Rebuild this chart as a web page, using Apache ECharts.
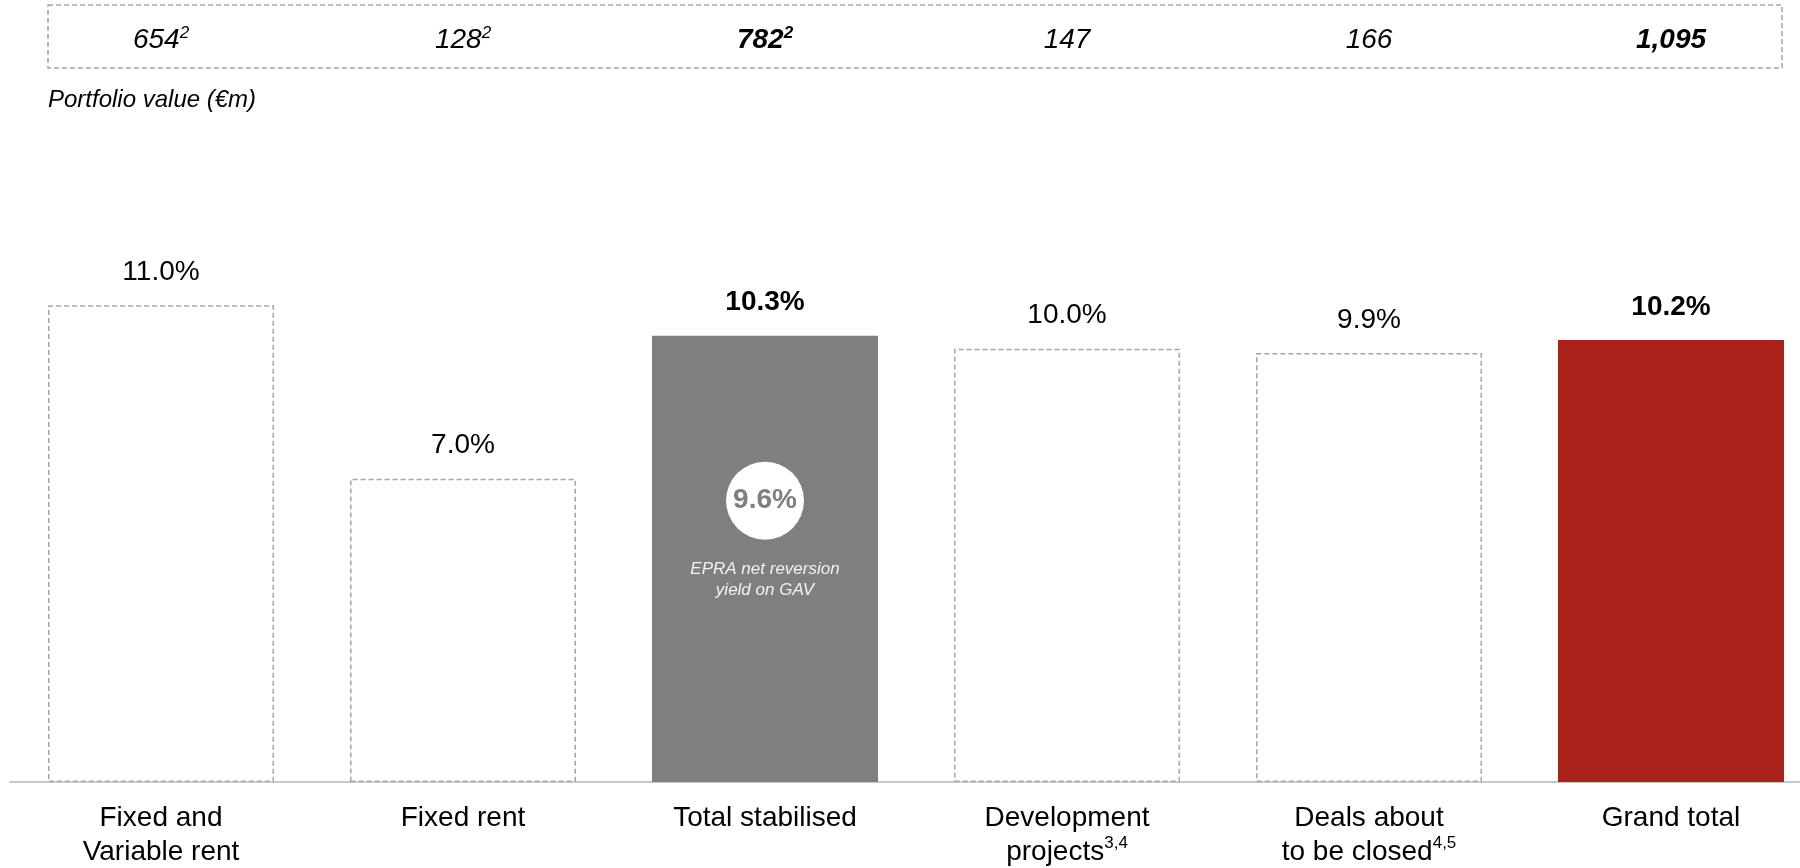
<!DOCTYPE html>
<html>
<head>
<meta charset="utf-8">
<title>Yield by portfolio segment</title>
<script src="https://cdn.jsdelivr.net/npm/echarts@6/dist/echarts.min.js"></script>
<style>
    html, body { margin: 0; padding: 0; background: #fff; }
    #chart { width: 1800px; height: 868px; }
</style>
</head>
<body>
<div id="chart"></div>
<script>
// categories (bottom axis)
var categories = ['Fixed and\nVariable rent', 'Fixed rent', 'Total stabilised', 'Development\nprojects', 'Deals about\nto be closed', 'Grand total'];
var categoryNotes = ['', '', '', '3,4', '4,5', ''];

// yield per segment (%)
var yieldValues = [11.0, 7.0, 10.3, 10.0, 9.9, 10.2];

// portfolio value (€m), shown in the box on top
var portfolioValues = ['654', '128', '782', '147', '166', '1,095'];
var portfolioNotes = ['2', '2', '2', '', '', ''];

// EPRA net reversion yield on GAV, shown inside "Total stabilised"
var epraYield = 9.6;

var FONT = 'Liberation Sans, Arial, sans-serif';

// which bars are filled / bold, the rest are dashed outlines
var filled = {
    'Total stabilised': '#7f7f7f',
    'Grand total': '#a8221a'
};

var chart = echarts.init(document.getElementById('chart'));

var barData = yieldValues.map(function (v, i) {
    var name = categories[i];
    var item = { value: v };
    if (filled[name]) {
        item.itemStyle = { color: filled[name], borderWidth: 0 };
        item.label = { fontWeight: 'bold' };
    } else {
        item.itemStyle = {
            color: '#fff',
            borderColor: '#a6a6a6',
            borderType: [5, 3],
            borderWidth: 1.5
        };
    }
    return item;
});

// only the stabilised bar carries the EPRA annotation
var epraData = yieldValues.map(function (v, i) {
    return categories[i] === 'Total stabilised' ? v : '-';
});

var option = {
    backgroundColor: '#fff',
    animation: false,
    title: {
        text: 'Portfolio value (€m)',
        left: 48,
        top: 88,
        padding: 0,
        textStyle: { fontFamily: FONT, fontSize: 24, fontStyle: 'italic', fontWeight: 'normal', color: '#000' }
    },
    graphic: [{
        type: 'rect',
        silent: true,
        shape: { x: 48, y: 5, width: 1734, height: 63 },
        style: { fill: 'none', stroke: '#a6a6a6', lineWidth: 1.5, lineDash: [5, 3] }
    }],
    grid: { left: 10, top: 262, width: 1812, height: 520, outerBoundsMode: 'none', containLabel: false },
    xAxis: [{
        type: 'category',
        data: categories,
        axisLine: { lineStyle: { color: '#c8c8c8', width: 2 } },
        axisTick: { show: false },
        axisLabel: {
            interval: 0,
            margin: 19,
            fontFamily: FONT,
            fontSize: 28,
            lineHeight: 34,
            color: '#000',
            formatter: function (value, idx) {
                var note = categoryNotes[idx];
                return note ? value + '{sup|' + note + '}' : value;
            },
            rich: {
                sup: { fontFamily: FONT, fontSize: 17, lineHeight: 22, verticalAlign: 'top', color: '#000' }
            }
        }
    }, {
        type: 'category',
        position: 'top',
        offset: 222,
        data: portfolioValues,
        axisLine: { show: false },
        axisTick: { show: false },
        axisLabel: {
            interval: 0,
            margin: 0,
            verticalAlign: 'middle',
            formatter: function (value, idx) {
                var bold = categories[idx] === 'Total stabilised' || categories[idx] === 'Grand total';
                var s = bold ? '{b|' + value + '}' : '{n|' + value + '}';
                if (portfolioNotes[idx]) s += (bold ? '{sb|' : '{s|') + portfolioNotes[idx] + '}';
                return s;
            },
            rich: {
                n: { fontFamily: FONT, fontSize: 28, fontStyle: 'italic', color: '#000', lineHeight: 30 },
                b: { fontFamily: FONT, fontSize: 28, fontStyle: 'italic', fontWeight: 'bold', color: '#000', lineHeight: 30 },
                s: { fontFamily: FONT, fontSize: 17, fontStyle: 'italic', color: '#000', lineHeight: 20, verticalAlign: 'top' },
                sb: { fontFamily: FONT, fontSize: 17, fontStyle: 'italic', fontWeight: 'bold', color: '#000', lineHeight: 20, verticalAlign: 'top' }
            }
        }
    }],
    yAxis: {
        type: 'value',
        min: 0,
        max: 12,
        show: false,
        splitLine: { show: false }
    },
    series: [{
        name: 'Yield',
        type: 'bar',
        barWidth: 226,
        data: barData,
        label: {
            show: true,
            position: 'top',
            distance: 19,
            fontFamily: FONT,
            fontSize: 28,
            color: '#000',
            formatter: function (p) { return p.value.toFixed(1) + '%'; }
        }
    }, {
        name: 'EPRA',
        type: 'bar',
        barWidth: 226,
        barGap: '-100%',
        silent: true,
        data: epraData,
        itemStyle: { color: 'rgba(0,0,0,0)' },
        label: {
            show: true,
            position: 'insideTop',
            distance: 126,
            formatter: function () {
                return '{c|' + epraYield.toFixed(1) + '%}\n{gap| }\n{t|EPRA net reversion}\n{t|yield on GAV}';
            },
            rich: {
                c: {
                    width: 78, height: 78, lineHeight: 78, borderRadius: 39,
                    backgroundColor: '#fff', color: '#7f7f7f', align: 'center',
                    fontFamily: FONT, fontSize: 28, fontWeight: 'bold'
                },
                gap: { fontSize: 2, lineHeight: 19 },
                t: { fontFamily: FONT, fontSize: 17, fontStyle: 'italic', color: '#f2f2f2', lineHeight: 21, align: 'center' }
            }
        }
    }]
};

chart.setOption(option);
</script>
</body>
</html>
